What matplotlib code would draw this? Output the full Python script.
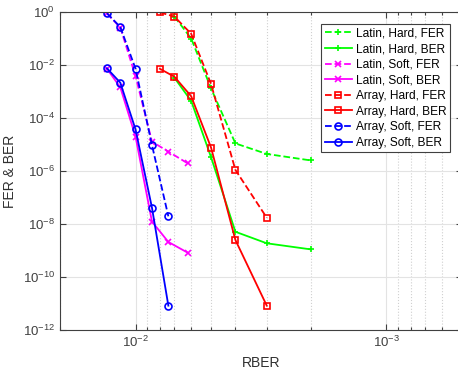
import matplotlib
matplotlib.use("Agg")
import matplotlib.pyplot as plt
from matplotlib.ticker import LogLocator, NullFormatter, FixedLocator

plt.rcParams['font.family'] = ['Liberation Sans', 'DejaVu Sans']
plt.rcParams['mathtext.fontset'] = 'custom'
plt.rcParams['mathtext.rm'] = 'Liberation Sans'

# RBER points
rber_array_soft = [1.3e-2, 1.15e-2, 1.0e-2, 8.6e-3, 7.4e-3]
rber_latin_soft = [1.3e-2, 1.15e-2, 1.0e-2, 8.6e-3, 7.4e-3, 6.2e-3]
rber_array_hard = [8e-3, 7e-3, 6e-3, 5e-3, 4e-3, 3e-3]
rber_latin_hard = [7e-3, 6e-3, 5e-3, 4e-3, 3e-3, 2e-3]

latin_hard_fer = [0.67, 0.1, 1.3e-3, 1.1e-5, 4.4e-6, 2.5e-6]
latin_hard_ber = [3.3e-3, 4.4e-4, 3.3e-6, 5.1e-9, 1.87e-9, 1.1e-9]
latin_soft_fer = [0.88, 0.26, 3.8e-3, 1.28e-5, 5.4e-6, 1.95e-6]
latin_soft_ber = [7.2e-3, 1.44e-3, 2.0e-5, 1.23e-8, 2.1e-9, 8.3e-10]
array_hard_fer = [0.97, 0.67, 0.15, 1.9e-3, 1.1e-6, 1.73e-8]
array_hard_ber = [7.2e-3, 3.6e-3, 6.6e-4, 7.6e-6, 2.5e-9, 8.3e-12]
array_soft_fer = [0.9, 0.27, 7.2e-3, 9.5e-6, 1.95e-8]
array_soft_ber = [7.5e-3, 2.15e-3, 3.7e-5, 4.1e-8, 8.3e-12]

fig = plt.figure(figsize=(4.58, 3.70), dpi=100)
ax = fig.add_axes([60 / 458, 40 / 370, 402 / 458, 318 / 370])

kw = dict(linewidth=1.3, markersize=5, markeredgewidth=1.2, fillstyle='none')
ax.plot(rber_latin_hard, latin_hard_fer, '--+', color=(0, 1, 0), label='Latin, Hard, FER', **kw)
ax.plot(rber_latin_hard, latin_hard_ber, '-+', color=(0, 1, 0), label='Latin, Hard, BER', **kw)
ax.plot(rber_latin_soft, latin_soft_fer, '--x', color=(1, 0, 1), label='Latin, Soft, FER', **kw)
ax.plot(rber_latin_soft, latin_soft_ber, '-x', color=(1, 0, 1), label='Latin, Soft, BER', **kw)
ax.plot(rber_array_hard, array_hard_fer, '--s', color=(1, 0, 0), label='Array, Hard, FER', **kw)
ax.plot(rber_array_hard, array_hard_ber, '-s', color=(1, 0, 0), label='Array, Hard, BER', **kw)
ax.plot(rber_array_soft, array_soft_fer, '--o', color=(0, 0, 1), label='Array, Soft, FER', **kw)
ax.plot(rber_array_soft, array_soft_ber, '-o', color=(0, 0, 1), label='Array, Soft, BER', **kw)

ax.set_xscale('log')
ax.set_yscale('log')
ax.set_xlim(2e-2, 5e-4)
ax.set_ylim(1e-12, 1)

ax.xaxis.set_major_locator(FixedLocator([1e-2, 1e-3]))
ax.xaxis.set_minor_locator(LogLocator(base=10, subs=range(2, 10)))
ax.xaxis.set_minor_formatter(NullFormatter())
ax.set_xticklabels([r'$10^{-2}$', r'$10^{-3}$'])
yt = [10.0 ** k for k in range(0, -13, -2)]
ax.yaxis.set_major_locator(FixedLocator(yt))
ax.yaxis.set_minor_locator(FixedLocator([]))
ax.set_yticklabels([r'$10^{%d}$' % k for k in range(0, -13, -2)])

ax.grid(True, which='major', color='#e3e3e3', linewidth=0.8)
ax.grid(True, which='minor', axis='x', color='#d0d0d0', linestyle=':', linewidth=0.8)
ax.set_axisbelow(True)

ax.tick_params(which='both', direction='in', top=True, right=True,
               labelsize=9.5, colors='#404040', width=0.8)
ax.tick_params(which='major', length=4)
ax.tick_params(which='minor', length=2.5)
for s in ax.spines.values():
    s.set_color('#404040')
    s.set_linewidth(0.8)

ax.set_xlabel('RBER', fontsize=10, color='#303030')
ax.set_ylabel('FER & BER', fontsize=10, color='#303030')

leg = ax.legend(loc='upper right', bbox_to_anchor=(0.97, 0.962), fontsize=8.6,
                fancybox=False, framealpha=1, edgecolor='#404040',
                handlelength=2.3, handletextpad=0.3, labelspacing=0.3,
                borderpad=0.3, borderaxespad=0)
leg.get_frame().set_linewidth(0.8)

fig.savefig('out.png', dpi=100)
